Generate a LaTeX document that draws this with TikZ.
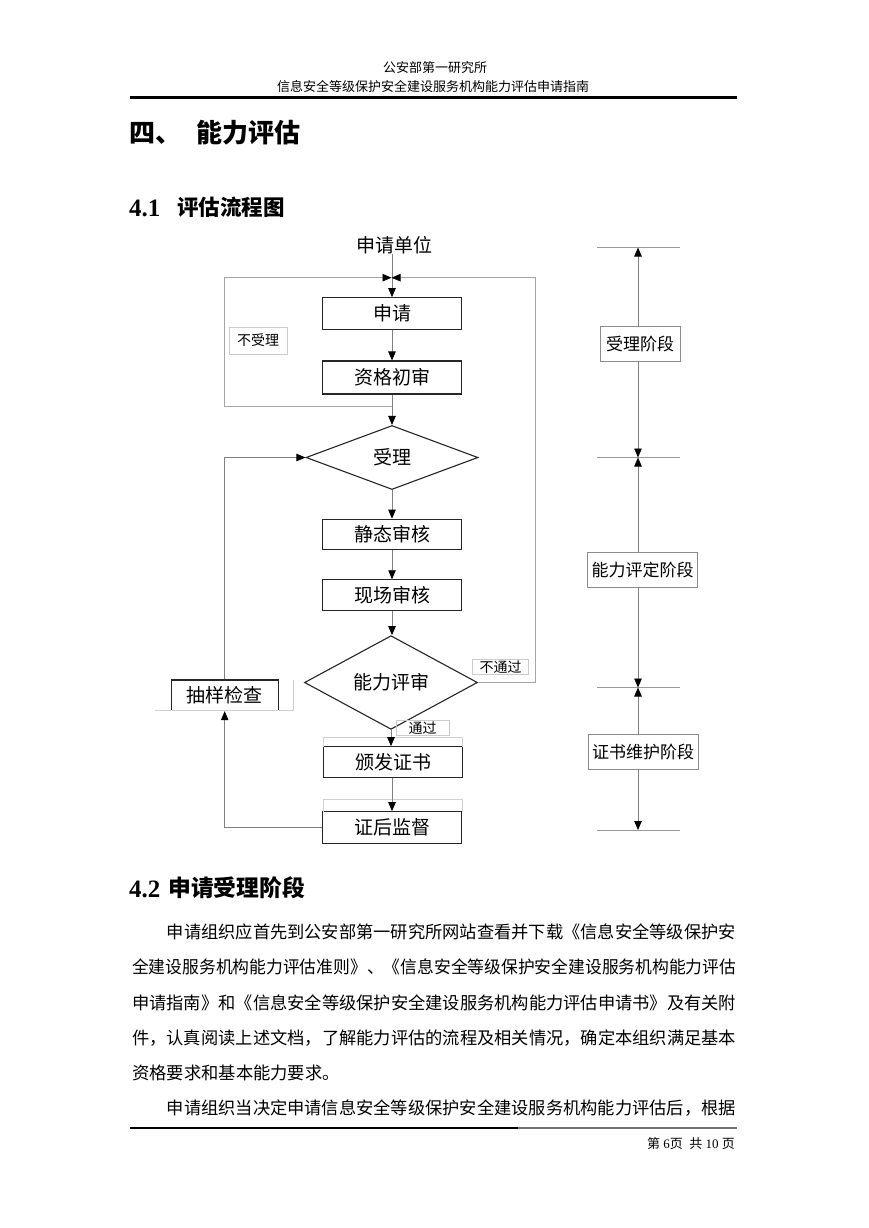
\documentclass[tikz,border=0pt]{standalone}
\usepackage{fontspec}
\usepackage{graphicx}
\setmainfont{Liberation Serif}
\newfontfamily\cjk{Noto Sans CJK SC}
\usetikzlibrary{shapes.geometric,arrows.meta}
\newcommand\myfs[1]{\fontsize{#1pt}{#1pt}\selectfont}
\begin{document}
\begin{tikzpicture}[x=1pt,y=-1pt,
  t/.style={inner sep=0pt, font=\cjk},
  box/.style={draw=black!85, line width=1.1pt, inner sep=0pt, font=\cjk\myfs{19}, minimum width=139pt, minimum height=32pt},
  dia/.style={diamond, draw=black!85, line width=1.1pt, inner sep=0pt, font=\cjk\myfs{19}, minimum width=172pt, minimum height=64pt},
  lbl/.style={draw=black!20, line width=0.6pt, inner sep=0pt, font=\cjk\myfs{14}},
  pbox/.style={draw=black!45, line width=0.7pt, inner sep=0pt, font=\cjk\myfs{17}, minimum height=35pt},
  tipk/.tip={Triangle[length=9pt,width=7.5pt,color=black]},
  conn/.style={draw=black!50, line width=0.8pt, -tipk},
  frm/.style={draw=black!35, line width=0.8pt},
  ghost/.style={draw=black!18, line width=0.7pt},
  rule/.style={draw=black!40, line width=0.7pt}
]
\useasboundingbox (0,0) rectangle (869,1228);
\fill[white] (0,0) rectangle (869,1228);

% header
\node[t, font=\cjk\myfs{13}] (h1) at (435,68) {公安部第一研究所};
\node[t, font=\cjk\myfs{13}] (h2) at (433,87) {信息安全等级保护安全建设服务机构能力评估申请指南};
\draw[line width=2.6pt] (130,97.5) -- (737,97.5);

% headings
\node[t, anchor=west, font=\cjk\bfseries\myfs{26}] (s4a) at (129,133) {四、};
\node[t, anchor=west, font=\cjk\bfseries\myfs{26}] (s4b) at (196,133) {能力评估};
\node[t, anchor=west, font=\bfseries\myfs{25}] (s41n) at (129,208) {4.1};
\node[t, anchor=west, font=\cjk\bfseries\myfs{21.5}] (s41t) at (177,207) {评估流程图};
\node[t, anchor=west, font=\bfseries\myfs{25}] (s42n) at (129,889) {4.2};
\node[t, anchor=west, font=\cjk\bfseries\myfs{22.8}] (s42t) at (168,888) {申请受理阶段};

% flowchart
\node[t, font=\cjk\myfs{19}] (sq) at (394,245) {申请单位};
\node[box] (A) at (392,313.7) {申请};
\node[box, minimum height=33pt] (B) at (392,377.5) {资格初审};
\node[dia] (D1) at (392,457.5) {受理};
\node[box, minimum height=30pt] (C) at (392,534.2) {静态审核};
\node[box, minimum height=31pt] (E) at (392,595.3) {现场审核};
\node[dia, minimum width=173pt, minimum height=65pt] (D2) at (391,682.5) {能力评审};
\node[box, minimum height=31pt] (F) at (393,762.2) {颁发证书};
\node[box, minimum height=31.6pt] (G) at (392,827.5) {证后监督};
\node[box, minimum width=107pt, minimum height=30.7pt] (H) at (224.7,695.3) {抽样检查};

% ghost frames
\draw[ghost] (155,710.7) -- (293.3,710.7) -- (293.3,680);
\draw[ghost] (323.3,747) -- (323.3,737.3) -- (462.7,737.3) -- (462.7,747);
\draw[ghost] (323.3,811.7) -- (323.3,799) -- (462.7,799) -- (462.7,811.7);

% labels
\node[lbl, minimum width=57.7pt, minimum height=27pt] (nl) at (258,340.5) {不受理};
\node[lbl, minimum width=55.6pt, minimum height=15pt] (nt) at (500.5,667) {不通过};
\node[lbl, minimum width=53.3pt, minimum height=15pt] (tg) at (422.5,727.7) {通过};

% junction coordinates
\coordinate (T) at (391.5,277.7);
\coordinate (j1) at (392,406.7);
\coordinate (L1) at (224.3,406.7);
\coordinate (L2) at (224.3,277.7);
\coordinate (R1) at (535,682.5);
\coordinate (R2) at (535,277.7);

% connectors
\draw[conn] (sq.south -| A.north) -- (A.north);
\draw[conn] (A) -- (B);
\draw[conn] (B.south) -- (D1.north);
\draw[frm, -tipk] (j1) -- (L1) -- (L2) -- (T);
\draw[frm, -tipk] (D2.east) -- (R1) -- (R2) -- (T);
\draw[conn] (D1.south) -- (C.north);
\draw[conn] (C) -- (E);
\draw[conn] (E.south) -- (E.south |- D2.north);
\draw[conn] (D2.south) -- (D2.south |- F.north);
\draw[conn] (F.south -| G.north) -- (G.north);
\draw[conn] (H.north) |- (D1.west);
\draw[conn] (G.west) -| (H.south);

% right column
\foreach \yy/\nm in {247.5/a1,457.5/a2,687.5/a3,830/a4}{
  \coordinate (\nm) at (638,\yy);
  \draw[rule] (597,\yy) -- (680,\yy);
}
\node[pbox, minimum width=80pt] (P1) at (640,344) {受理阶段};
\node[pbox, minimum width=110pt] (P2) at (642.5,570) {能力评定阶段};
\node[pbox, minimum width=110pt] (P3) at (643,752) {证书维护阶段};
\draw[conn] (P1.north -| a1) -- (a1);
\draw[conn] (P1.south -| a1) -- (a2);
\draw[conn] (P2.north -| a2) -- (a2);
\draw[conn] (P2.south -| a2) -- (a3);
\draw[conn] (P3.north -| a3) -- (a3);
\draw[conn] (P3.south -| a3) -- (a4);

% body text
\node[t, anchor=west] (b1) at (166.6,932) {\resizebox{569pt}{\height}{\myfs{17.3}申请组织应首先到公安部第一研究所网站查看并下载《信息安全等级保护安}};
\node[t, anchor=west] (b2) at (132,967.2) {\resizebox{604pt}{\height}{\myfs{17.3}全建设服务机构能力评估准则》、《信息安全等级保护安全建设服务机构能力评估}};
\node[t, anchor=west] (b3) at (132,1002.5) {\resizebox{604pt}{\height}{\myfs{17.3}申请指南》和《信息安全等级保护安全建设服务机构能力评估申请书》及有关附}};
\node[t, anchor=west] (b4) at (132,1037.7) {\resizebox{604pt}{\height}{\myfs{17.3}件，认真阅读上述文档，了解能力评估的流程及相关情况，确定本组织满足基本}};
\node[t, anchor=west, font=\cjk\myfs{17.3}] (b5) at (132,1072.9) {资格要求和基本能力要求。};
\node[t, anchor=west] (b6) at (166.6,1108) {\resizebox{569pt}{\height}{\myfs{17.3}申请组织当决定申请信息安全等级保护安全建设服务机构能力评估后，根据}};

% footer
\draw[line width=1.4pt] (130,1128) -- (518,1128);
\draw[line width=1.4pt, black!55] (518,1128) -- (737,1128);
\node[t, anchor=east, font=\myfs{13}] (ft) at (735,1144) {{\cjk 第}\ 6{\cjk 页}\ \ {\cjk 共}\ 10\ {\cjk 页}};
\end{tikzpicture}
\end{document}
